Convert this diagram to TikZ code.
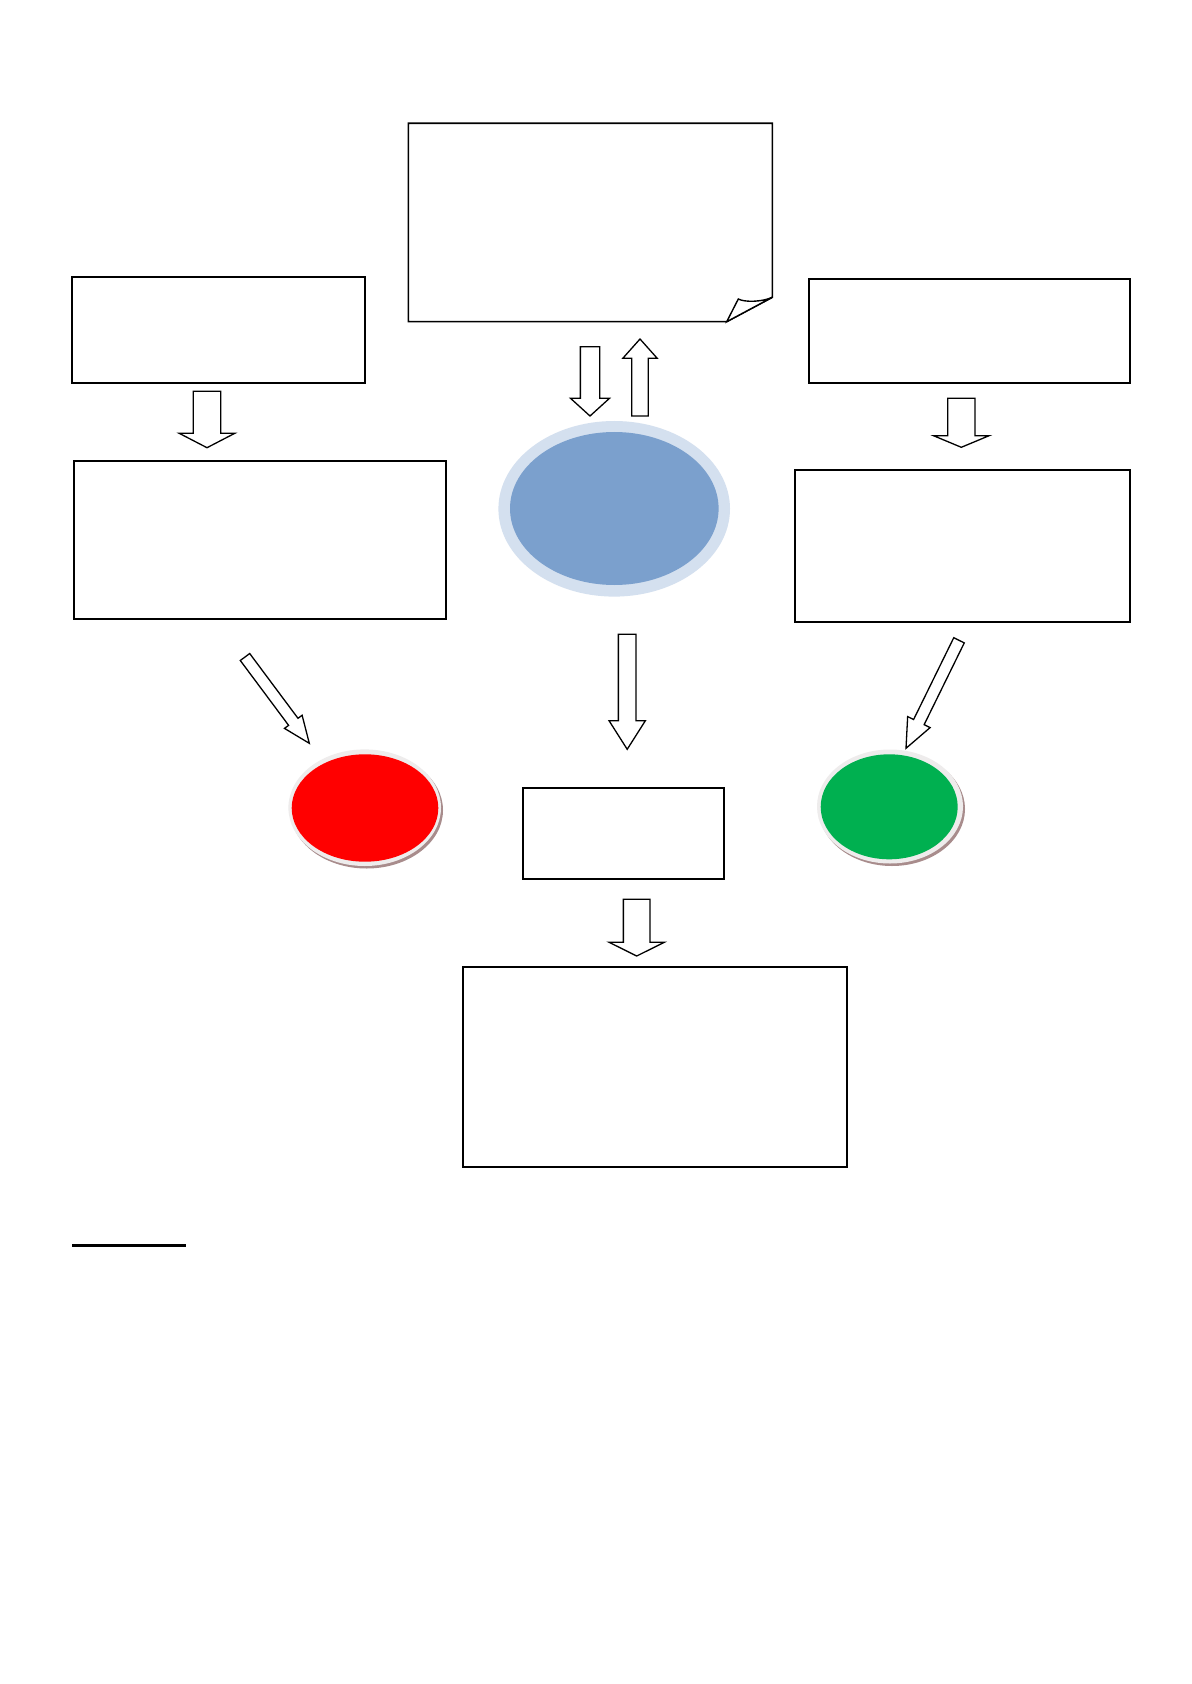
\documentclass[tikz,border=0pt]{standalone}
\usetikzlibrary{calc,shapes.geometric,fit}
\definecolor{blueIn}{RGB}{123,160,205}
\definecolor{blueRing}{RGB}{212,224,239}
\definecolor{okGreen}{RGB}{0,176,80}
\definecolor{ringGray}{RGB}{238,236,236}
\definecolor{shadowBrown}{RGB}{168,140,140}
\tikzset{
  boxnode/.style={draw=black, line width=0.9pt, rectangle, inner sep=0pt, fill=white},
  barrow/.style={draw=black, fill=white, line width=0.65pt, line join=miter},
  ell/.style={ellipse, inner sep=0pt, draw=none},
}
% #1 tail, #2 tip, #3 shaft half width, #4 head half width, #5 head length
\newcommand{\blockarr}[5]{%
  \coordinate (#1-h) at ($(#2)!#5!(#1)$);
  \draw[barrow] ($(#1)!#3!90:(#2)$) -- ($(#1-h)!#3!90:(#2)$) -- ($(#1-h)!#4!90:(#2)$)
    -- (#2) -- ($(#1-h)!#4!-90:(#2)$) -- ($(#1-h)!#3!-90:(#2)$) -- ($(#1)!#3!-90:(#2)$) -- cycle;
}
\begin{document}
\begin{tikzpicture}[x=0.5pt,y=-0.5pt]
\useasboundingbox[fill=white] (0,0) rectangle (1191,1684);

% folded top box
\coordinate (tb-nw) at (408.3,123.3);
\coordinate (tb-ne) at (772.3,123.3);
\coordinate (tb-fr) at (772.3,297.3);
\coordinate (tb-fb) at (726.7,321.7);
\coordinate (tb-sw) at (408.3,321.7);
\coordinate (tb-apex) at (738.3,299);
\draw[line width=0.8pt, fill=white] (tb-nw) -- (tb-ne) -- (tb-fr) -- (tb-fb) -- (tb-sw) -- cycle;
\draw[line width=0.7pt, fill=white, line join=miter] (tb-fb) -- (tb-apex) .. controls (745,302.5) and (762,302) .. (tb-fr) -- cycle;
\node[inner sep=0pt, fit=(tb-nw) (tb-fb)] (topbox) {};

% boxes
\node[boxnode, fit={(72.3,277.3) (365.3,383.3)}] (ltop) {};
\node[boxnode, fit={(73.7,461.3) (445.7,619.3)}] (lbig) {};
\node[boxnode, fit={(808.7,279.3) (1130.3,383.3)}] (rtop) {};
\node[boxnode, fit={(794.7,470.3) (1130.3,621.7)}] (rbig) {};
\node[boxnode, fit={(522.7,788.3) (724.3,879)}] (small) {};
\node[boxnode, line width=1.1pt, fit={(463.3,967.3) (847.3,1167)}] (bottom) {};

% blue ellipse
\node[ell, fill=blueRing, minimum width=115.8pt, minimum height=87.8pt] (blueO) at (614.2,508.8) {};
\node[ell, fill=blueIn, minimum width=104.3pt, minimum height=76.5pt] (blue) at (614.3,508.5) {};

% red ellipse
\node[ell, fill=shadowBrown, minimum width=76.3pt, minimum height=58.3pt] (redS) at (366.7,810.2) {};
\node[ell, fill=ringGray, minimum width=76.3pt, minimum height=58.3pt] (redR) at (364.7,807.7) {};
\node[ell, fill=red, minimum width=73.3pt, minimum height=53.7pt] (redC) at (365,808) {};

% green ellipse
\node[ell, fill=shadowBrown, minimum width=73pt, minimum height=57pt] (greenS) at (892,809) {};
\node[ell, fill=ringGray, minimum width=73pt, minimum height=57pt] (greenR) at (890,806.5) {};
\node[ell, fill=okGreen, minimum width=68.5pt, minimum height=52.5pt] (greenC) at (889.2,806.8) {};

% arrow end points
\coordinate (a1t) at (207,391.3);   \coordinate (a1e) at (207,447.7);
\coordinate (a2t) at (590,346.7);   \coordinate (a2e) at (590,416);
\coordinate (a3t) at (640,416);     \coordinate (a3e) at (640,339);
\coordinate (a4t) at (961.3,398.3); \coordinate (a4e) at (961.3,447.3);
\coordinate (a5t) at (627.2,634.3); \coordinate (a5e) at (627.2,749.3);
\coordinate (a6t) at (636.7,899.3); \coordinate (a6e) at (636.7,956);
\coordinate (a7t) at (245,657);     \coordinate (a7e) at (309.3,743.3);
\coordinate (a8t) at (959,640.3);   \coordinate (a8e) at (906,748.3);

\blockarr{a1t}{a1e}{6.85pt}{13.9pt}{7.2pt}
\blockarr{a2t}{a2e}{4.83pt}{9.75pt}{8.85pt}
\blockarr{a3t}{a3e}{4.15pt}{8.6pt}{9.65pt}
\blockarr{a4t}{a4e}{6.83pt}{13.9pt}{5.8pt}
\blockarr{a5t}{a5e}{4.43pt}{9.08pt}{14.3pt}
\blockarr{a6t}{a6e}{6.68pt}{13.8pt}{6.85pt}
\blockarr{a7t}{a7e}{2.93pt}{5.5pt}{13.4pt}
\blockarr{a8t}{a8e}{2.93pt}{6.25pt}{14.6pt}

% underline
\coordinate (ul1) at (72,1245.5);
\coordinate (ul2) at (185.6,1245.5);
\draw[line width=1.2pt] (ul1) -- (ul2);
\end{tikzpicture}
\end{document}
